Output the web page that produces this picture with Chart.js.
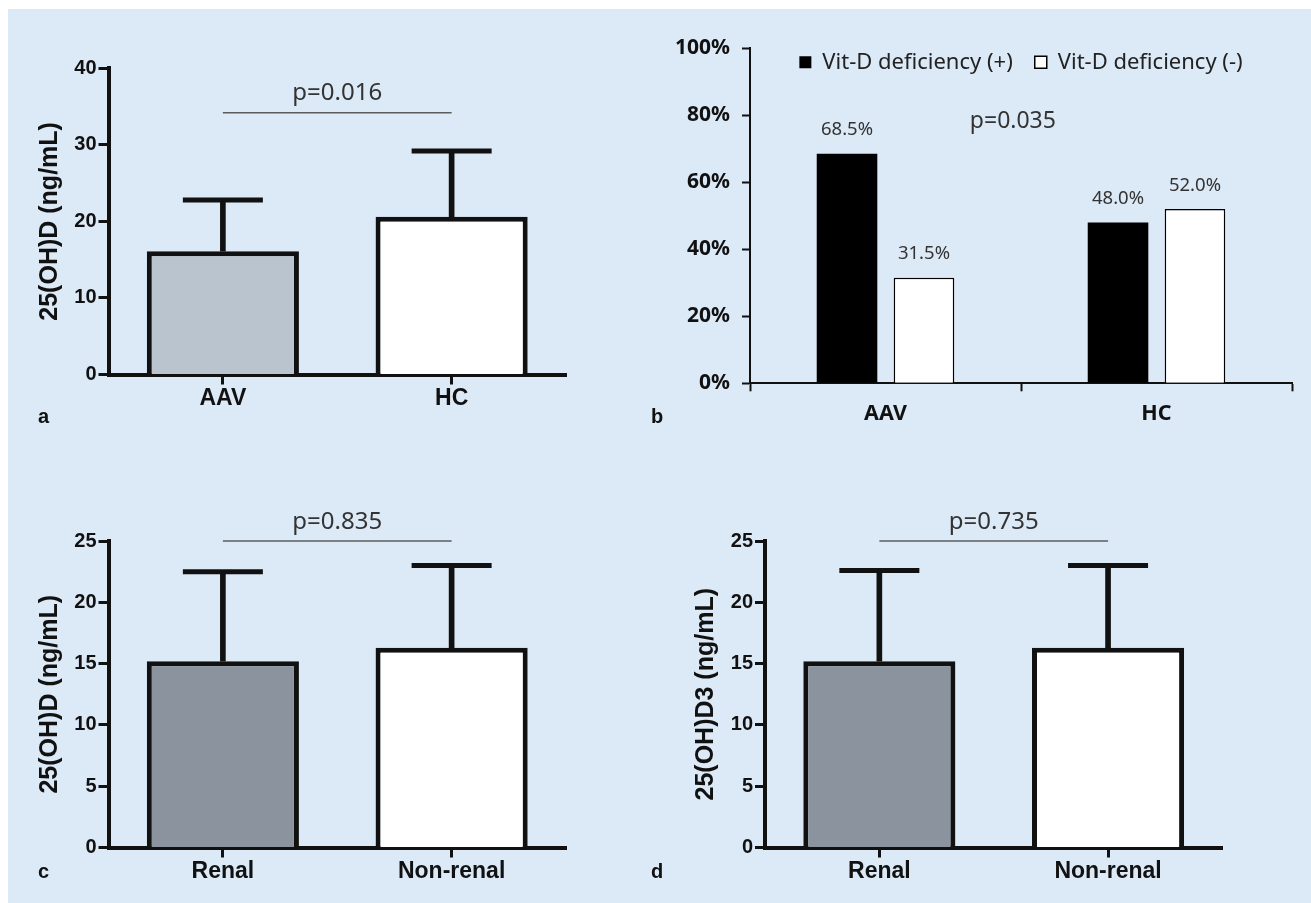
<!DOCTYPE html>
<html>
<head>
<meta charset="utf-8">
<title>25(OH)D in AAV</title>
<script src="https://cdn.jsdelivr.net/npm/chart.js@4.4.1/dist/chart.umd.min.js"></script>
<style>
  html, body { margin: 0; padding: 0; background: #fff; }
  body { width: 1311px; height: 903px; position: relative; overflow: hidden; }
  #bg { position: absolute; left: 8px; top: 9px; right: 0; bottom: 0; background: #dce9f7; }
  .panel { position: absolute; }
  .panel canvas { display: block; }
  .tag { position: absolute; font: bold 20px/20px 'Liberation Sans', Arial, sans-serif; color: #111; }
</style>
</head>
<body>
<div id="bg"></div>
<div class="panel" style="left:0;top:0"><canvas id="chartA" width="655" height="450"></canvas></div>
<div class="panel" style="left:655px;top:0"><canvas id="chartB" width="656" height="450"></canvas></div>
<div class="panel" style="left:0;top:450px"><canvas id="chartC" width="655" height="453"></canvas></div>
<div class="panel" style="left:655px;top:450px"><canvas id="chartD" width="656" height="453"></canvas></div>
<div class="tag" style="left:38px;top:406px">a</div>
<div class="tag" style="left:651px;top:406px">b</div>
<div class="tag" style="left:38px;top:861px">c</div>
<div class="tag" style="left:651px;top:861px">d</div>

<script>
'use strict';

// ─── Data ──────────────────────────────────────────────────────────────────────
// a: serum 25(OH)D, AAV vs healthy controls (mean + SD)
const groupsA = ['AAV', 'HC'];
const meanA   = [16.1, 20.6];
const sdA     = [6.7, 8.6];
const pLineA  = 34.2;
const pTextA  = 'p=0.016';

// b: proportion with vitamin D deficiency
const groupsB     = ['AAV', 'HC'];
const seriesB     = ['Vit-D deficiency (+)', 'Vit-D deficiency (-)'];
const deficientB  = [68.5, 48.0];
const sufficientB = [31.5, 52.0];
const pTextB      = 'p=0.035';
const pPosB       = [0.47, 76.2];   // [category position, % value]

// c: 25(OH)D, renal vs non-renal
const groupsCD = ['Renal', 'Non-renal'];
const meanC    = [15.2, 16.3];
const sdC      = [7.3, 6.7];
const pTextC   = 'p=0.835';

// d: 25(OH)D3, renal vs non-renal
const meanD  = [15.2, 16.3];
const sdD    = [7.4, 6.7];
const pTextD = 'p=0.735';

const pLineCD = 25;

// ─── Styling ───────────────────────────────────────────────────────────────────
const ARIAL = "'Liberation Sans', Arial, sans-serif";
const NOTO  = "'Noto Sans', 'Open Sans', sans-serif";
const INK   = '#111';

// ─── Plugins ───────────────────────────────────────────────────────────────────
// p-value text above the comparison line (or at a value position)
const pNote = {
  id: 'pNote',
  afterDatasetsDraw(chart, args, opts) {
    if (!opts.text) return;
    let x, y;
    if (opts.dataset != null) {
      const pts = chart.getDatasetMeta(opts.dataset).data;
      x = (pts[0].x + pts[pts.length - 1].x) / 2;
      y = pts[0].y - opts.gap;
    } else {
      x = chart.scales.x.getPixelForValue(opts.at[0]);
      y = chart.scales.y.getPixelForValue(opts.at[1]);
    }
    const ctx = chart.ctx;
    ctx.save();
    ctx.font = `${opts.size}px ${NOTO}`;
    ctx.fillStyle = '#333';
    ctx.textAlign = 'center';
    ctx.textBaseline = 'alphabetic';
    ctx.fillText(opts.text, x, y);
    ctx.restore();
  }
};

// percentage labels over the bars of panel b
const barValues = {
  id: 'barValues',
  afterDatasetsDraw(chart, args, opts) {
    const ctx = chart.ctx;
    ctx.save();
    ctx.font = `${opts.size}px ${NOTO}`;
    ctx.fillStyle = '#333';
    ctx.textAlign = 'center';
    ctx.textBaseline = 'alphabetic';
    chart.data.datasets.forEach((ds, i) => {
      chart.getDatasetMeta(i).data.forEach((bar, j) => {
        ctx.fillText(ds.data[j].toFixed(1) + '%', bar.x, bar.y - opts.gap);
      });
    });
    ctx.restore();
  }
};

// legend that sits inside the plot area instead of taking room above it
const floatLegend = {
  id: 'floatLegend',
  beforeLayout(chart) {
    const lg = chart.legend;
    if (!lg || lg._floated) return;
    const fit = lg.fit.bind(lg);
    lg.fit = function () {
      fit();
      this._fullHeight = this.height;
      this.height = 0;
    };
    lg._floated = true;
  },
  afterLayout(chart, args, opts) {
    const lg = chart.legend;
    const ca = chart.chartArea;
    const lbl = lg.options.labels;
    lg.left = ca.left;
    lg.right = ca.right;
    lg.width = ca.right - ca.left;
    lg.top = ca.top + opts.centerY - lbl.padding - lbl.font.size / 2;
    lg.height = lg._fullHeight;
    lg.bottom = lg.top + lg._fullHeight;
  }
};

// ─── Mean ± SD bar panel (a, c, d) ─────────────────────────────────────────────
function meanSdPanel(id, o) {
  const upper = o.mean.map((m, i) => m + o.sd[i]);
  return new Chart(document.getElementById(id), {
    type: 'bar',
    data: {
      labels: o.labels,
      datasets: [
        {
          label: 'mean',
          data: o.mean,
          backgroundColor: o.fills,
          borderColor: INK,
          borderWidth: 5,
          barPercentage: 0.665,
          categoryPercentage: 1,
          grouped: false,
          order: 1,
        },
        {
          label: 'sd',
          data: o.mean.map((m, i) => [m, upper[i]]),
          backgroundColor: INK,
          barThickness: 5,
          grouped: false,
          order: 2,
        },
        {
          type: 'line',
          label: 'cap',
          data: upper,
          showLine: false,
          pointStyle: 'line',
          pointRadius: 40,
          pointBorderWidth: 5,
          pointBorderColor: INK,
          order: 0,
        },
        {
          type: 'line',
          label: 'p',
          data: o.labels.map(() => o.pLine),
          borderColor: '#5c5c5c',
          borderWidth: 1.5,
          pointRadius: 0,
          clip: false,
          order: 0,
        },
      ]
    },
    options: {
      responsive: false,
      animation: false,
      events: [],
      layout: { padding: o.padding },
      scales: {
        x: {
          ticks: { color: INK, font: { family: ARIAL, size: 23, weight: 'bold' }, padding: 0 },
          grid: { offset: false, drawOnChartArea: false, tickLength: 10, tickWidth: 3, tickColor: INK },
          border: { color: INK, width: 4 },
          afterFit: s => { s.height = 50; },
        },
        y: {
          min: 0,
          max: o.yMax,
          ticks: { stepSize: o.yStep, color: INK, font: { family: ARIAL, size: 20, weight: 'bold' }, padding: 2 },
          grid: { drawOnChartArea: false, tickLength: 10, tickWidth: 3, tickColor: INK },
          border: { color: INK, width: 4 },
          title: { display: true, text: o.yTitle, color: INK, padding: 0, font: { family: ARIAL, size: 25, weight: 'bold' } },
          afterFit: s => { s.width = o.yWidth; },
        }
      },
      plugins: {
        legend: { display: false },
        tooltip: { enabled: false },
        pNote: { text: o.pText, dataset: 3, gap: 12.5, size: 24 },
      }
    },
    plugins: [pNote]
  });
}

meanSdPanel('chartA', {
  labels: groupsA, mean: meanA, sd: sdA, fills: ['#bac4cf', '#ffffff'],
  yMax: 40, yStep: 10, yTitle: '25(OH)D (ng/mL)',
  pLine: pLineA, pText: pTextA,
  yWidth: 73, padding: { left: 35.5, right: 89, top: 68.3, bottom: 25.5 },
});

meanSdPanel('chartC', {
  labels: groupsCD, mean: meanC, sd: sdC, fills: ['#8b939f', '#ffffff'],
  yMax: 25, yStep: 5, yTitle: '25(OH)D (ng/mL)',
  pLine: pLineCD, pText: pTextC,
  yWidth: 73, padding: { left: 35.5, right: 89, top: 91, bottom: 5.5 },
});

meanSdPanel('chartD', {
  labels: groupsCD, mean: meanD, sd: sdD, fills: ['#8b939f', '#ffffff'],
  yMax: 25, yStep: 5, yTitle: '25(OH)D3 (ng/mL)',
  pLine: pLineCD, pText: pTextD,
  yWidth: 74, padding: { left: 36, right: 88.6, top: 91, bottom: 5.5 },
});

// ─── Panel b: deficiency proportions ───────────────────────────────────────────
new Chart(document.getElementById('chartB'), {
  type: 'bar',
  data: {
    labels: groupsB,
    datasets: [
      {
        label: seriesB[0],
        data: deficientB,
        backgroundColor: '#000',
        borderColor: '#000',
        borderWidth: 0,
      },
      {
        label: seriesB[1],
        data: sufficientB,
        backgroundColor: '#fff',
        borderColor: '#000',
        borderWidth: 1.5,
      }
    ]
  },
  options: {
    responsive: false,
    animation: false,
    events: [],
    datasets: { bar: { categoryPercentage: 0.568, barPercentage: 0.787 } },
    layout: { padding: { left: 5, right: 19, top: 48.3, bottom: 16.7 } },
    scales: {
      x: {
        ticks: { color: INK, font: { family: NOTO, size: 21.5, weight: 'bold' }, padding: 10 },
        grid: { drawOnChartArea: false, tickLength: 8, tickWidth: 2, tickColor: INK },
        border: { color: INK, width: 2 },
        afterFit: s => { s.height = 50; },
      },
      y: {
        min: 0,
        max: 100,
        ticks: { stepSize: 20, callback: v => v + '%', color: INK, font: { family: NOTO, size: 21, weight: 'bold' }, padding: 12 },
        grid: { drawOnChartArea: false, tickLength: 8, tickWidth: 2, tickColor: INK },
        border: { color: INK, width: 2 },
        afterFit: s => { s.width = 90; },
      }
    },
    plugins: {
      legend: {
        position: 'top',
        labels: { color: '#222', font: { family: NOTO, size: 22 }, boxWidth: 12, boxHeight: 12, padding: 22 },
      },
      tooltip: { enabled: false },
      floatLegend: { centerY: 14 },
      barValues: { gap: 18.5, size: 18.5 },
      pNote: { text: pTextB, at: pPosB, size: 23 },
    }
  },
  plugins: [floatLegend, barValues, pNote]
});
</script>
</body>
</html>
